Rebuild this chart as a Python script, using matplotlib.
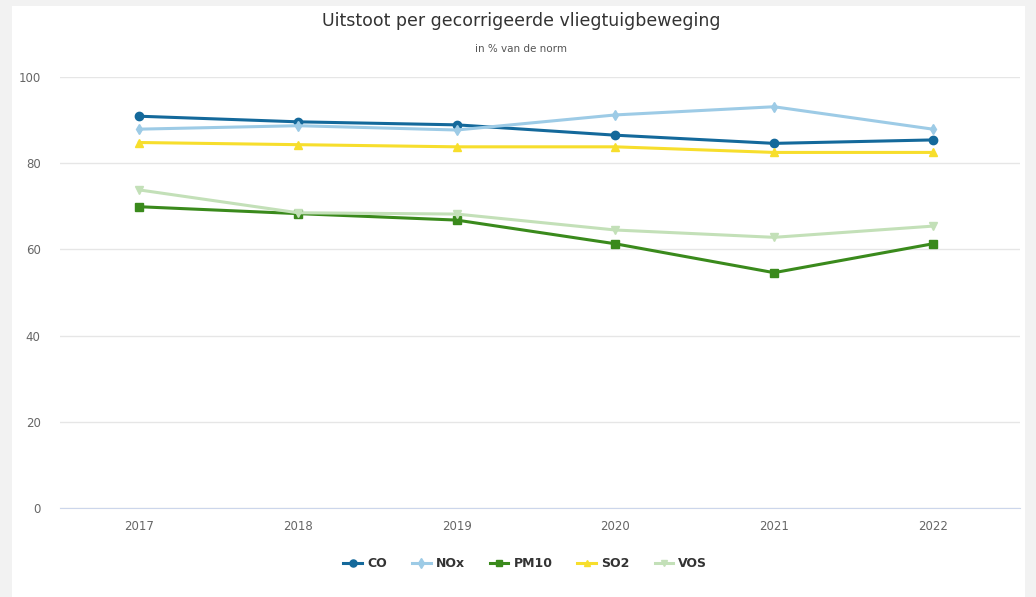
import matplotlib.pyplot as plt
from matplotlib.patches import Rectangle

years = ["2017", "2018", "2019", "2020", "2021", "2022"]
co = [90.9, 89.6, 88.9, 86.5, 84.6, 85.4]
nox = [87.9, 88.7, 87.7, 91.2, 93.1, 87.9]
pm10 = [69.9, 68.3, 66.8, 61.3, 54.6, 61.3]
so2 = [84.8, 84.3, 83.8, 83.8, 82.5, 82.5]
vos = [73.8, 68.5, 68.2, 64.5, 62.8, 65.4]

series = [
    ("CO", co, "#14699b", "o", 6),
    ("NOx", nox, "#9dcbe6", "d", 5.5),
    ("PM10", pm10, "#3a8a1c", "s", 5.5),
    ("SO2", so2, "#f7de2c", "^", 5.5),
    ("VOS", vos, "#c3e0b8", "v", 5.5),
]

fig = plt.figure(figsize=(10.36, 5.97), dpi=100)
fig.patch.set_facecolor("#f2f2f2")
fig.patches.append(Rectangle((12 / 1036, 0), 1013 / 1036, 591 / 597,
                             transform=fig.transFigure, facecolor="white",
                             edgecolor="none", zorder=-1))

ax = fig.add_axes([60 / 1036, 89 / 597, 960 / 1036, 431 / 597])
ax.set_zorder(2)
ax.set_facecolor("none")

x = list(range(len(years)))
for name, vals, color, marker, ms in series:
    ax.plot(x, vals, color=color, linewidth=2.2, marker=marker, markersize=ms,
            label=name, clip_on=False, zorder=3)

ax.set_xlim(-0.5, len(years) - 0.45)
ax.set_ylim(0, 100)
ax.set_yticks([0, 20, 40, 60, 80, 100])
ax.set_xticks(x)
ax.set_xticklabels(years)
ax.grid(axis="y", color="#e6e6e6", linewidth=1)
ax.set_axisbelow(True)
for s in ["top", "right", "left"]:
    ax.spines[s].set_visible(False)
ax.spines["bottom"].set_color("#ccd6eb")
ax.tick_params(axis="both", length=0, labelsize=8.5, labelcolor="#666666")
ax.tick_params(axis="y", pad=14)
ax.tick_params(axis="x", pad=9)

fig.text(0.503, 0.965, "Uitstoot per gecorrigeerde vliegtuigbeweging",
         ha="center", va="center", fontsize=12.5, color="#333333")
fig.text(0.503, 0.918, "in % van de norm", ha="center", va="center",
         fontsize=7.5, color="#555555")

leg = fig.legend(loc="center", bbox_to_anchor=(0.507, 0.056), ncol=5,
                 frameon=False, handlelength=1.5, columnspacing=2.0,
                 handletextpad=0.4, markerscale=0.85,
                 prop={"weight": "bold", "size": 9})
for t in leg.get_texts():
    t.set_color("#333333")

fig.savefig("out.png", dpi=100, facecolor=fig.get_facecolor())
